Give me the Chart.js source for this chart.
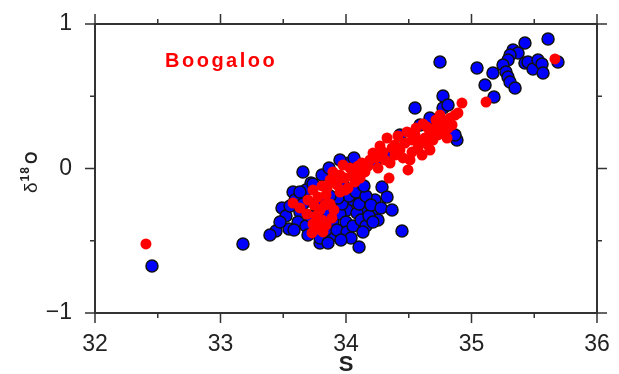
<!DOCTYPE html>
<html lang="en">
<head>
    <meta charset="UTF-8">
    <title>Boogaloo S vs d18O</title>
    <script src="https://cdn.jsdelivr.net/npm/chart.js"></script>
    <style>
        body {
            margin: 0;
            padding: 0;
            background: #ffffff;
        }

        .chart-wrap {
            position: relative;
            width: 619px;
            height: 374px;
        }
    </style>
</head>
<body>
    <div class="chart-wrap">
        <canvas id="scatter"></canvas>
    </div>

    <script>
        // axis ticks
        const xTicks = [32, 33, 34, 35, 36];
        const yTicks = [-1, 0, 1];

        // blue samples (salinity, d18O)
        const blueS = [32.454, 33.179, 33.657, 33.721, 33.681, 33.578, 33.490, 33.442, 33.546, 33.793,
            33.873, 34.024, 34.104, 34.446, 34.287, 34.327, 34.231, 34.231, 34.430, 34.327,
            34.056, 34.135, 34.008, 34.088, 34.207, 34.255, 34.884, 34.869, 35.108, 34.773,
            34.550, 34.773, 34.813, 34.749, 35.044, 35.171, 35.179, 35.426, 35.610, 35.331,
            35.371, 35.307, 35.291, 35.251, 35.275, 35.291, 35.307, 35.347, 35.426, 35.450,
            35.490, 35.530, 35.562, 35.570, 35.689, 34.669, 34.590, 33.594, 33.633, 33.618,
            33.681, 33.713, 33.657, 33.586, 33.697, 33.793, 33.841, 33.896, 33.952, 33.857,
            33.968, 34.000, 33.928, 34.008, 34.056, 34.120, 34.159, 34.183, 34.104, 34.024,
            33.936, 33.873, 33.522, 33.554, 33.633, 33.737, 34.080, 34.159, 34.199, 34.279,
            34.215, 34.135, 34.040, 33.960, 33.857, 33.793, 33.809, 33.865, 33.952, 34.064,
            33.761, 33.474, 33.394, 34.367, 33.984, 34.143];
        const blueD = [-0.675, -0.522, -0.024, -0.100, -0.149, -0.163, -0.273, -0.433, -0.419, -0.516,
            -0.474, 0.038, -0.543, -0.433, -0.128, -0.197, -0.218, 0.045, 0.232, 0.080,
            -0.218, -0.273, -0.287, -0.308, -0.301, -0.356, 0.197, 0.232, 0.578, 0.502,
            0.419, 0.419, 0.439, 0.737, 0.695, 0.661, 0.495, 0.869, 0.896, 0.820,
            0.799, 0.785, 0.751, 0.716, 0.668, 0.633, 0.599, 0.557, 0.730, 0.737,
            0.689, 0.751, 0.723, 0.661, 0.737, 0.349, 0.301, -0.218, -0.301, -0.370,
            -0.398, -0.329, -0.246, -0.426, -0.460, -0.481, -0.426, -0.370, -0.315, -0.301,
            -0.246, -0.370, -0.426, -0.439, -0.398, -0.356, -0.398, -0.329, -0.246, -0.190,
            -0.204, -0.190, -0.329, -0.260, -0.163, -0.107, -0.163, -0.190, -0.253, -0.273,
            -0.370, -0.439, -0.481, -0.495, -0.516, -0.218, -0.045, 0.003, 0.059, 0.073,
            -0.253, -0.370, -0.460, -0.287, -0.121, -0.121];

        // red samples (Boogaloo)
        const redS = [32.406, 33.578, 33.737, 33.777, 33.745, 33.793, 33.761, 33.809, 33.737, 33.777,
            33.729, 33.873, 33.904, 33.841, 33.809, 33.873, 33.896, 33.952, 33.928, 33.992,
            34.032, 33.976, 34.080, 34.127, 34.072, 34.016, 33.952, 34.151, 34.191, 34.215,
            34.271, 34.327, 34.255, 34.311, 34.351, 34.343, 34.390, 34.430, 34.454, 34.494,
            34.510, 34.470, 34.526, 34.574, 34.550, 34.558, 34.614, 34.645, 34.590, 34.629,
            34.669, 34.709, 34.653, 34.693, 34.733, 34.749, 34.789, 34.773, 34.813, 34.845,
            34.829, 34.869, 34.892, 34.924, 34.749, 34.717, 34.805, 34.669, 34.526, 34.606,
            35.116, 35.665, 34.112, 33.888, 33.841, 33.689, 33.633, 34.390, 33.936, 34.048,
            34.096, 34.175, 34.239, 34.295, 34.367, 34.414, 34.486, 33.833, 33.849, 33.697,
            33.817, 33.992];
        const redD = [-0.522, -0.239, -0.149, -0.197, -0.253, -0.287, -0.329, -0.356, -0.384, -0.419,
            -0.446, -0.246, -0.287, -0.183, -0.121, -0.080, -0.024, -0.045, -0.114, -0.066,
            0.003, 0.024, -0.010, 0.038, -0.093, -0.135, -0.163, -0.024, 0.059, 0.107,
            0.156, 0.211, 0.003, 0.059, 0.038, -0.066, 0.093, 0.128, 0.073, -0.010,
            0.059, 0.176, 0.197, 0.142, 0.232, 0.280, 0.308, 0.287, 0.183, 0.211,
            0.246, 0.280, 0.163, 0.197, 0.232, 0.301, 0.322, 0.266, 0.280, 0.301,
            0.349, 0.370, 0.384, 0.453, 0.370, 0.336, 0.211, 0.128, 0.114, 0.093,
            0.460, 0.758, -0.066, -0.343, -0.391, -0.315, -0.273, 0.163, -0.080, -0.052,
            0.017, 0.017, 0.073, 0.114, 0.142, 0.225, 0.253, -0.253, -0.135, -0.218,
            -0.439, -0.149];

        const bluePoints = blueS.map((s, i) => ({ x: s, y: blueD[i] }));
        const redPoints = redS.map((s, i) => ({ x: s, y: redD[i] }));

        const FONT = "'Liberation Sans', Arial, sans-serif";

        // GMT-like frame: border plus outward ticks on all four sides
        const framePlugin = {
            id: 'frame',
            afterDraw(chart) {
                const ctx = chart.ctx;
                const a = chart.chartArea;
                const xs = chart.scales.x;
                const ys = chart.scales.y;
                ctx.save();
                ctx.strokeStyle = '#333';
                ctx.lineWidth = 2;
                ctx.strokeRect(a.left, a.top, a.right - a.left, a.bottom - a.top);

                ctx.lineWidth = 1.5;
                ctx.beginPath();
                for (let v = xTicks[0]; v <= xTicks[xTicks.length - 1] + 1e-9; v += 0.5) {
                    const len = Number.isInteger(v) ? 10 : 5;
                    const px = xs.getPixelForValue(v);
                    ctx.moveTo(px, a.bottom);
                    ctx.lineTo(px, a.bottom + len);
                    ctx.moveTo(px, a.top);
                    ctx.lineTo(px, a.top - len);
                }
                for (let v = yTicks[0]; v <= yTicks[yTicks.length - 1] + 1e-9; v += 0.5) {
                    const len = Number.isInteger(v) ? 10 : 5;
                    const py = ys.getPixelForValue(v);
                    ctx.moveTo(a.left, py);
                    ctx.lineTo(a.left - len, py);
                    ctx.moveTo(a.right, py);
                    ctx.lineTo(a.right + len, py);
                }
                ctx.stroke();

                // y axis title: delta 18 O, rotated
                ctx.translate(37, 193);
                ctx.rotate(-Math.PI / 2);
                ctx.fillStyle = '#222';
                ctx.textBaseline = 'alphabetic';
                ctx.textAlign = 'left';
                ctx.font = '19px ' + FONT;
                ctx.fillText('δ', 0, 0);
                let w = ctx.measureText('δ').width;
                ctx.font = 'bold 12px ' + FONT;
                ctx.letterSpacing = '1px';
                ctx.fillText('18', w + 1, -8);
                w += ctx.measureText('18').width + 3;
                ctx.letterSpacing = '0px';
                ctx.font = 'bold 16px ' + FONT;
                ctx.fillText('O', w, 0);
                ctx.restore();

                // cruise label
                ctx.save();
                ctx.fillStyle = '#ff0000';
                ctx.font = 'bold 20px ' + FONT;
                ctx.letterSpacing = '2.5px';
                ctx.textBaseline = 'alphabetic';
                ctx.fillText('Boogaloo', 165, 67);
                ctx.restore();
            }
        };

        new Chart(document.getElementById('scatter'), {
            type: 'scatter',
            data: {
                datasets: [
                    {
                        label: 'Boogaloo',
                        data: redPoints,
                        backgroundColor: '#ff0000',
                        borderWidth: 0,
                        pointRadius: 5.5,
                        order: 0
                    },
                    {
                        label: 'Other',
                        data: bluePoints,
                        backgroundColor: '#0000ff',
                        borderColor: '#111111',
                        borderWidth: 1.5,
                        pointRadius: 6,
                        order: 1
                    }
                ]
            },
            options: {
                responsive: true,
                maintainAspectRatio: false,
                animation: false,
                layout: { padding: { top: 24, right: 22, left: 0, bottom: 0 } },
                plugins: {
                    legend: { display: false },
                    tooltip: { enabled: false }
                },
                scales: {
                    x: {
                        type: 'linear',
                        min: 32,
                        max: 36,
                        afterBuildTicks: s => { s.ticks = xTicks.map(v => ({ value: v })); },
                        afterFit: s => { s.height = 61; s.paddingLeft = 0; s.paddingRight = 0; },
                        grid: { display: false, drawTicks: false },
                        border: { display: false },
                        ticks: {
                            padding: 18,
                            color: '#222',
                            font: { family: FONT, size: 23 },
                            maxRotation: 0
                        },
                        title: {
                            display: true,
                            text: 'S',
                            color: '#222',
                            font: { family: FONT, size: 22, weight: 'bold', lineHeight: 0.8 },
                            padding: { top: 0, bottom: 0 }
                        }
                    },
                    y: {
                        type: 'linear',
                        min: -1,
                        max: 1,
                        afterBuildTicks: s => { s.ticks = yTicks.map(v => ({ value: v })); },
                        afterFit: s => { s.width = 95; s.paddingTop = 0; s.paddingBottom = 0; },
                        grid: { display: false, drawTicks: false },
                        border: { display: false },
                        ticks: {
                            padding: 23,
                            color: '#222',
                            font: { family: FONT, size: 23 },
                            callback: v => (v < 0 ? '\u2212' + Math.abs(v) : String(v))
                        }
                    }
                }
            },
            plugins: [framePlugin]
        });
    </script>
</body>
</html>
